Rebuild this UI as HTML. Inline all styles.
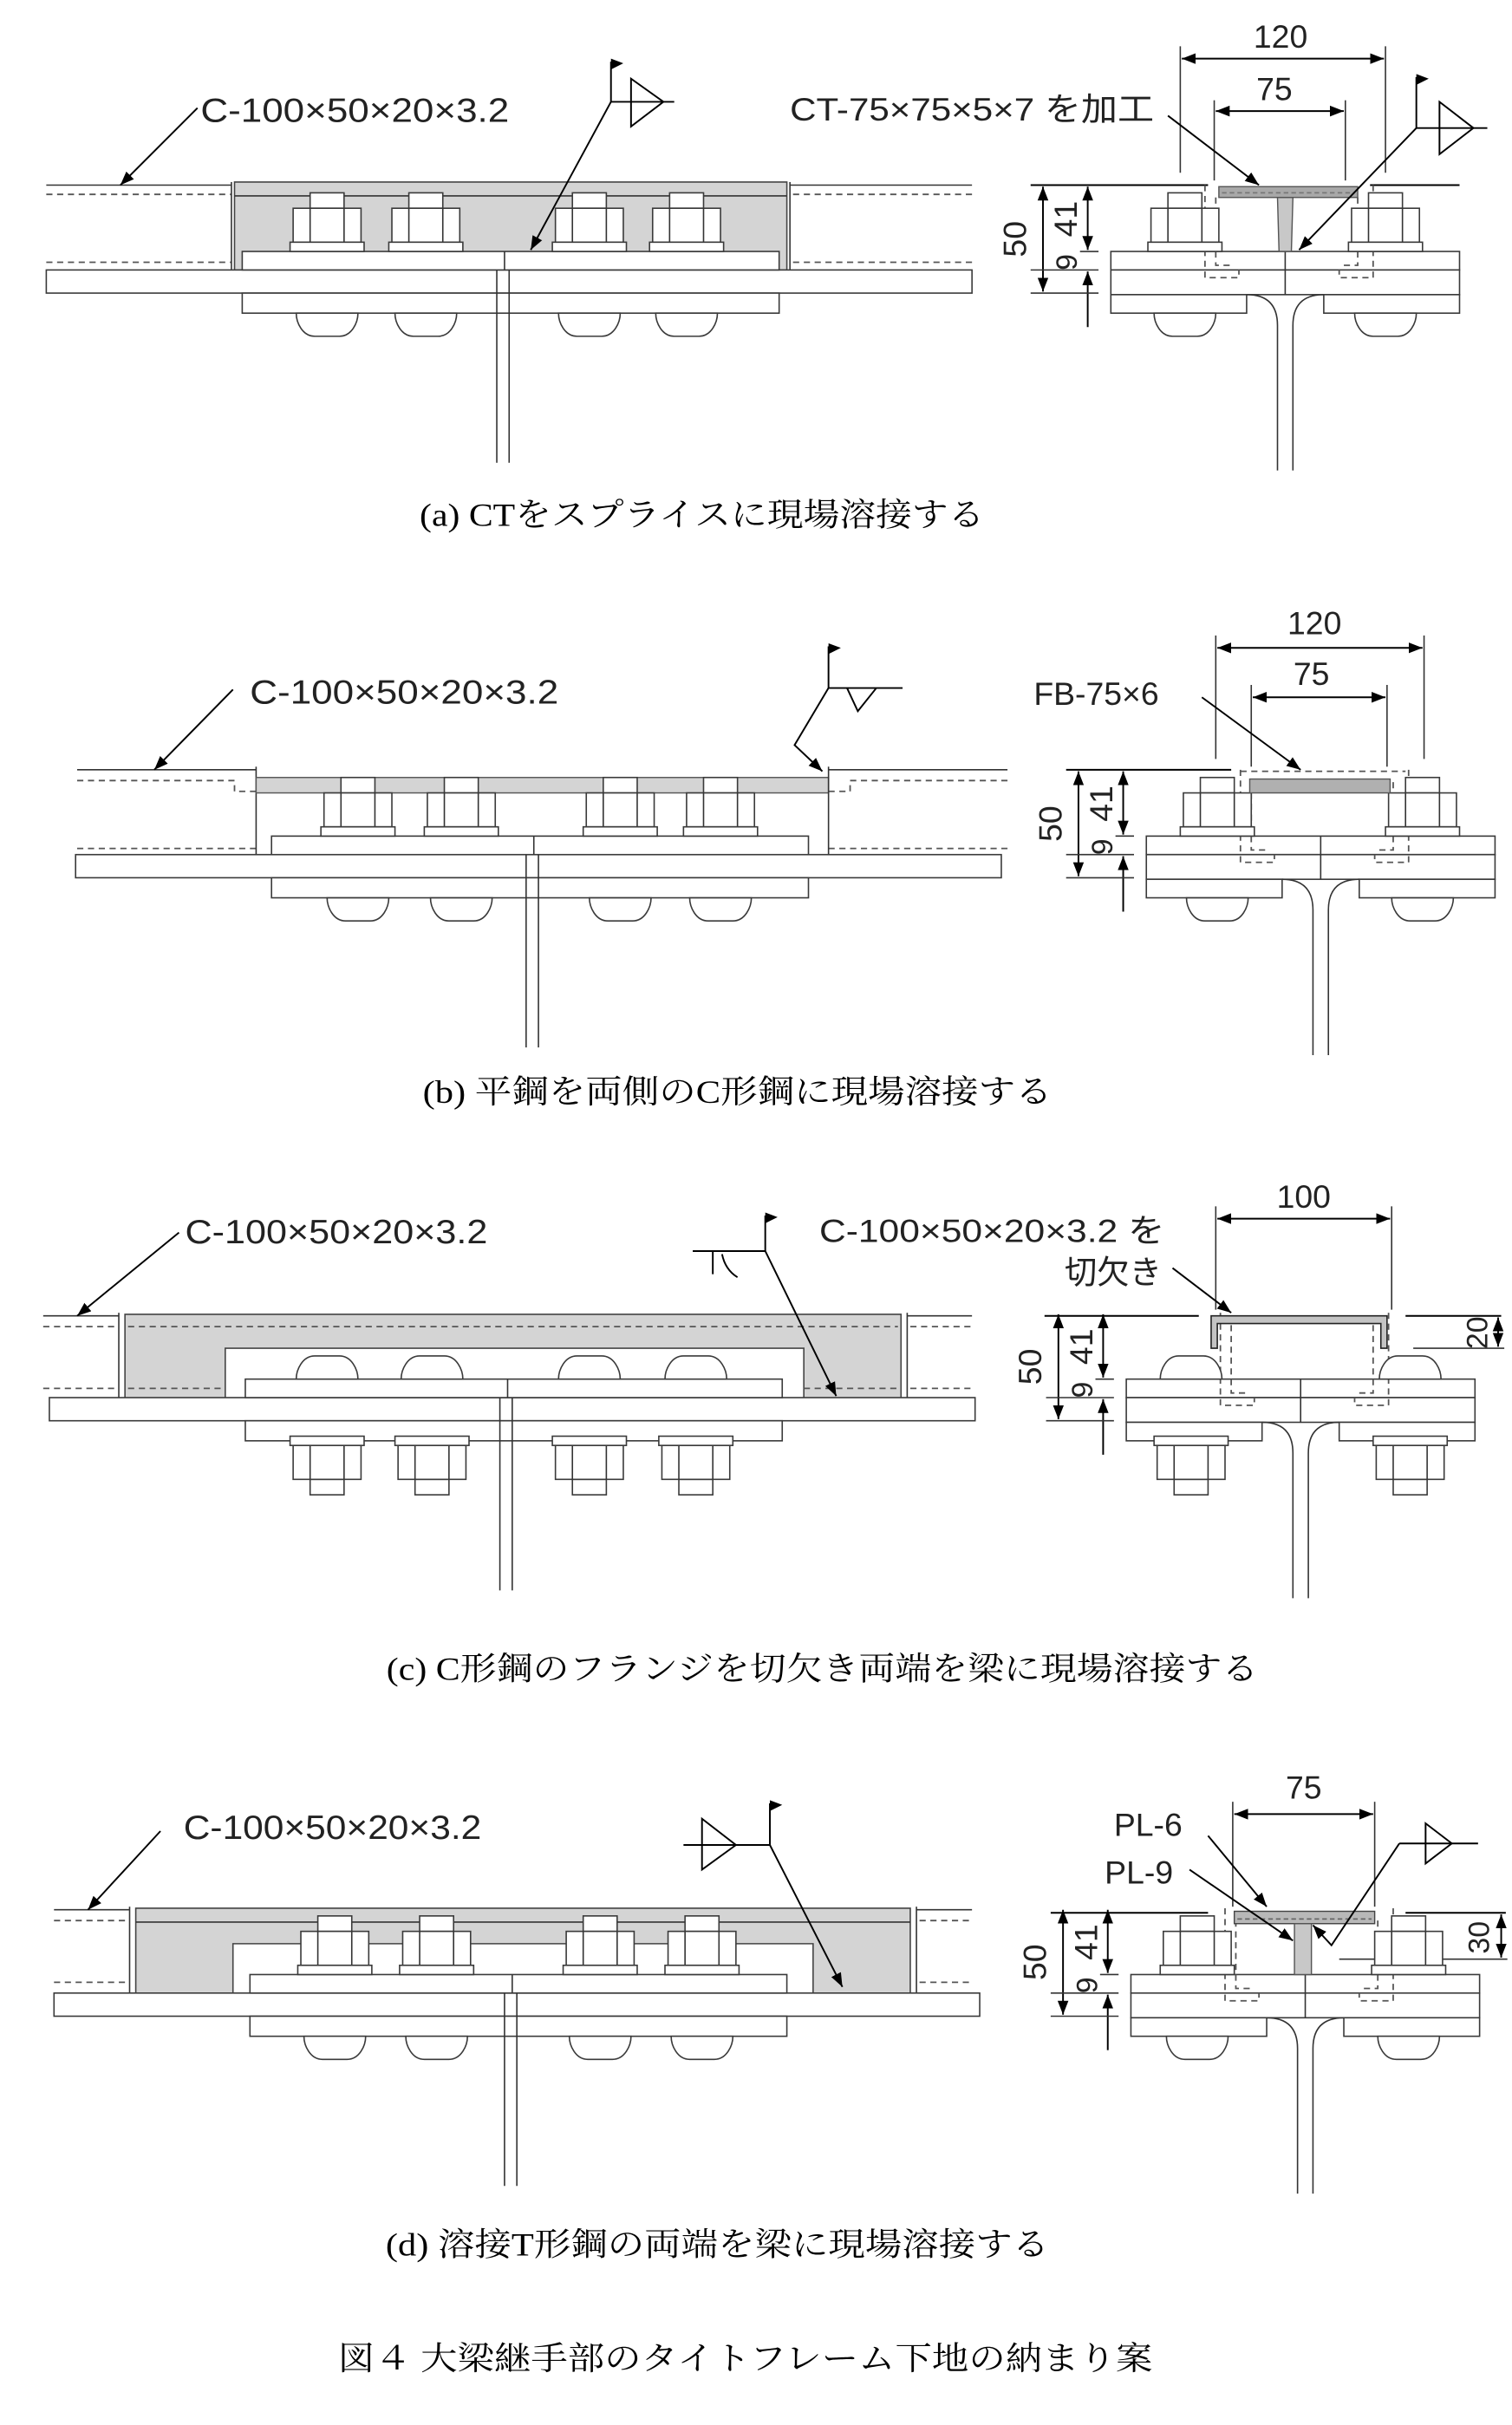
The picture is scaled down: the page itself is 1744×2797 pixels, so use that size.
<!DOCTYPE html>
<html><head><meta charset="utf-8"><style>
html,body{margin:0;padding:0;background:#fff}
svg{display:block}
.o{fill:#fff;stroke:#3a3a3a;stroke-width:0.9}
.l{stroke:#333;stroke-width:0.9;fill:none}
.k{stroke:#000;stroke-width:1.1;fill:none}
.d{stroke:#555;stroke-width:1;fill:none;stroke-dasharray:4 3}
.g{fill:#d4d4d4;stroke:#444;stroke-width:0.9}
.lab{font-family:"Liberation Sans","Noto Sans CJK JP",sans-serif;fill:#222}
.cap{font-family:"Liberation Serif","Noto Serif CJK SC","Noto Sans CJK JP",serif;fill:#000;font-size:21px}
</style></head><body>
<svg width="1744" height="2797" viewBox="0 0 980 1572" preserveAspectRatio="none" xmlns="http://www.w3.org/2000/svg">
<defs>
<marker id="ar" markerWidth="10" markerHeight="10" refX="9" refY="5" orient="auto" markerUnits="userSpaceOnUse"><path d="M0,1.5 L9,5 L0,8.5 z" fill="#000"/></marker>
<marker id="as" markerWidth="10" markerHeight="10" refX="1" refY="5" orient="auto" markerUnits="userSpaceOnUse"><path d="M10,1.5 L1,5 L10,8.5 z" fill="#000"/></marker>
<g id="nut"><rect class="o" x="-11" y="-38" width="22" height="10"/><rect class="o" x="-22" y="-28" width="44" height="22"/><line class="l" x1="-11" y1="-28" x2="-11" y2="-6"/><line class="l" x1="11" y1="-28" x2="11" y2="-6"/><rect class="o" x="-24" y="-6" width="48" height="6"/></g>
<path id="dome" class="o" d="M-20,0 C-20,6 -16,15 -8,15 L8,15 C16,15 20,6 20,0 z"/>
<g id="coreL">
<rect class="o" x="30" y="175" width="600" height="15"/>
<rect class="o" x="157" y="163" width="348" height="12"/>
<rect class="o" x="157" y="190" width="348" height="13"/>
<line class="l" x1="322" y1="175" x2="322" y2="300"/><line class="l" x1="330" y1="175" x2="330" y2="300"/>
<line class="l" x1="327" y1="163" x2="327" y2="175"/>
</g>
<g id="coreR">
<rect class="o" x="720" y="163" width="226" height="12"/>
<rect class="o" x="720" y="175" width="226" height="16"/>
<rect class="o" x="720" y="191" width="88" height="12"/>
<rect class="o" x="858" y="191" width="88" height="12"/>
<path class="l" d="M808,191 Q828,191 828,211 L828,305"/>
<path class="l" d="M858,191 Q838,191 838,211 L838,305"/>
<line class="l" x1="833" y1="163" x2="833" y2="191"/>
<path class="d" d="M781,120 L781,180 L803,180 L803,175"/>
<path class="d" d="M788,128 L788,172 L798,172"/>
<path class="d" d="M890,120 L890,180 L868,180 L868,175"/>
<path class="d" d="M880,128 L880,172 L870,172"/>
<line class="k" x1="676" y1="121" x2="676" y2="189" marker-start="url(#as)" marker-end="url(#ar)"/>
<line class="k" x1="705" y1="121" x2="705" y2="162" marker-start="url(#as)" marker-end="url(#ar)"/>
<line class="k" x1="705" y1="176" x2="705" y2="212" marker-start="url(#as)"/>
<line class="l" x1="700" y1="163" x2="712" y2="163"/>
<line class="l" x1="668" y1="175" x2="712" y2="175"/>
<line class="l" x1="668" y1="190" x2="712" y2="190"/>
<text class="lab" font-size="21" text-anchor="middle" transform="translate(665,155) rotate(-90)">50</text>
<text class="lab" font-size="21" text-anchor="middle" transform="translate(698,142) rotate(-90)">41</text>
<text class="lab" font-size="19" text-anchor="middle" transform="translate(698,170) rotate(-90)">9</text>
</g>
</defs>

<!-- ============ (a) ============ -->
<g>
<line class="l" x1="30" y1="120" x2="150" y2="120" stroke-width="2" stroke="#888"/>
<line class="d" x1="30" y1="126" x2="150" y2="126"/><line class="d" x1="30" y1="170" x2="150" y2="170"/>
<line class="l" x1="150" y1="118" x2="150" y2="175"/>
<rect class="g" x="152" y="118" width="358" height="57"/>
<line class="l" x1="152" y1="127" x2="510" y2="127"/>
<line class="l" x1="512" y1="120" x2="630" y2="120" stroke-width="2" stroke="#888"/>
<line class="d" x1="514" y1="126" x2="630" y2="126"/><line class="d" x1="514" y1="170" x2="630" y2="170"/>
<line class="l" x1="512" y1="118" x2="512" y2="175"/>
<use href="#coreL"/>
<use href="#nut" x="212" y="163"/><use href="#nut" x="276" y="163"/><use href="#nut" x="382" y="163"/><use href="#nut" x="445" y="163"/>
<use href="#dome" x="212" y="203"/><use href="#dome" x="276" y="203"/><use href="#dome" x="382" y="203"/><use href="#dome" x="445" y="203"/>
<text class="lab" x="130" y="79" font-size="22" textLength="200" lengthAdjust="spacingAndGlyphs">C-100×50×20×3.2</text>
<line class="k" x1="128" y1="70" x2="78" y2="120" marker-end="url(#ar)"/>
<line class="k" x1="396" y1="40" x2="396" y2="66"/><path d="M396,38 L404,41 L396,45z" fill="#000"/>
<line class="k" x1="396" y1="66" x2="437" y2="66"/><path class="k" d="M409,51 L409,82 L430,66 z"/>
<line class="k" x1="396" y1="66" x2="344" y2="162" marker-end="url(#ar)"/>
<line class="k" x1="668" y1="120" x2="783" y2="120"/>
<line class="k" x1="888" y1="120" x2="946" y2="120"/>
<use href="#coreR"/>
<use href="#nut" x="768" y="163"/><use href="#nut" x="898" y="163"/>
<use href="#dome" x="768" y="203"/><use href="#dome" x="898" y="203"/>
<rect x="790" y="121" width="90" height="7" fill="#a8a8a8" stroke="#555" stroke-width="0.8"/>
<line x1="792" y1="125" x2="878" y2="125" stroke="#777" stroke-dasharray="3 2"/>
<path d="M828,128 L838,128 L837,163 L829,163 z" fill="#c8c8c8" stroke="#555" stroke-width="0.8"/>
<line class="l" x1="765" y1="30" x2="765" y2="112"/><line class="l" x1="898" y1="30" x2="898" y2="112"/>
<line class="k" x1="766" y1="38" x2="897" y2="38" marker-start="url(#as)" marker-end="url(#ar)"/>
<text class="lab" x="830" y="31" font-size="21" text-anchor="middle">120</text>
<line class="l" x1="787" y1="65" x2="787" y2="117"/><line class="l" x1="872" y1="65" x2="872" y2="117"/>
<line class="k" x1="788" y1="72" x2="871" y2="72" marker-start="url(#as)" marker-end="url(#ar)"/>
<text class="lab" x="826" y="65" font-size="21" text-anchor="middle">75</text>
<text class="lab" x="512" y="78" font-size="21" textLength="236" lengthAdjust="spacingAndGlyphs">CT-75×75×5×7 を加工</text>
<line class="k" x1="757" y1="75" x2="816" y2="120" marker-end="url(#ar)"/>
<line class="k" x1="918" y1="50" x2="918" y2="83"/><path d="M918,48 L926,51 L918,55z" fill="#000"/>
<line class="k" x1="918" y1="83" x2="964" y2="83"/><path class="k" d="M933,66 L933,100 L955,83 z"/>
<line class="k" x1="918" y1="83" x2="842" y2="162" marker-end="url(#ar)"/>
<text class="cap" x="455" y="341" text-anchor="middle" textLength="366" lengthAdjust="spacingAndGlyphs">(a) CTをスプライスに現場溶接する</text>
</g>

<!-- ============ (b) ============ -->
<g>
<line class="l" x1="50" y1="499" x2="166" y2="499" stroke-width="2" stroke="#888"/>
<path class="d" d="M50,506 L152,506 L152,513 L166,513"/>
<line class="d" x1="50" y1="550" x2="166" y2="550"/>
<line class="l" x1="166" y1="497" x2="166" y2="554"/>
<rect x="166" y="504" width="371" height="10" fill="#d4d4d4" stroke="#555" stroke-width="0.8"/>
<line class="l" x1="537" y1="499" x2="653" y2="499" stroke-width="2" stroke="#888"/>
<path class="d" d="M653,506 L551,506 L551,513 L537,513"/>
<line class="d" x1="537" y1="550" x2="653" y2="550"/>
<line class="l" x1="537" y1="497" x2="537" y2="554"/>
<use href="#coreL" transform="translate(19,379)"/>
<use href="#nut" x="232" y="542"/><use href="#nut" x="299" y="542"/><use href="#nut" x="402" y="542"/><use href="#nut" x="467" y="542"/>
<use href="#dome" x="232" y="582"/><use href="#dome" x="299" y="582"/><use href="#dome" x="402" y="582"/><use href="#dome" x="467" y="582"/>
<text class="lab" x="162" y="456" font-size="22" textLength="200" lengthAdjust="spacingAndGlyphs">C-100×50×20×3.2</text>
<line class="k" x1="151" y1="447" x2="100" y2="499" marker-end="url(#ar)"/>
<line class="k" x1="537" y1="419" x2="537" y2="446"/><path d="M537,417 L545,420 L537,424z" fill="#000"/>
<line class="k" x1="537" y1="446" x2="585" y2="446"/><path class="k" d="M549,446 L556,461 L568,446"/>
<polyline class="k" points="537,446 515,483 533,500" marker-end="url(#ar)"/>
<line class="k" x1="691" y1="499" x2="798" y2="499"/>
<use href="#coreR" transform="translate(23,379)"/>
<use href="#nut" x="789" y="542"/><use href="#nut" x="922" y="542"/>
<use href="#dome" x="789" y="582"/><use href="#dome" x="922" y="582"/>
<rect x="810" y="505" width="91" height="9" fill="#b0b0b0" stroke="#555" stroke-width="0.8"/>
<path class="d" d="M804,500 L911,500"/>
<line class="l" x1="788" y1="412" x2="788" y2="492"/><line class="l" x1="923" y1="412" x2="923" y2="492"/>
<line class="k" x1="789" y1="420" x2="922" y2="420" marker-start="url(#as)" marker-end="url(#ar)"/>
<text class="lab" x="852" y="411" font-size="21" text-anchor="middle">120</text>
<line class="l" x1="811" y1="444" x2="811" y2="497"/><line class="l" x1="899" y1="444" x2="899" y2="497"/>
<line class="k" x1="812" y1="452" x2="898" y2="452" marker-start="url(#as)" marker-end="url(#ar)"/>
<text class="lab" x="850" y="444" font-size="21" text-anchor="middle">75</text>
<text class="lab" x="670" y="457" font-size="21">FB-75×6</text>
<line class="k" x1="779" y1="452" x2="843" y2="499" marker-end="url(#ar)"/>
<text class="cap" x="478" y="715" text-anchor="middle" textLength="408" lengthAdjust="spacingAndGlyphs">(b) 平鋼を両側のC形鋼に現場溶接する</text>
</g>

<!-- ============ (c) ============ -->
<g>
<line class="l" x1="28" y1="853" x2="77" y2="853" stroke-width="2" stroke="#888"/>
<line class="d" x1="28" y1="860" x2="77" y2="860"/><line class="d" x1="28" y1="900" x2="77" y2="900"/>
<line class="l" x1="77" y1="851" x2="77" y2="907"/>
<path class="g" d="M81,852 L584,852 L584,907 L521,907 L521,874 L146,874 L146,907 L81,907 z"/>
<line class="d" x1="83" y1="860" x2="582" y2="860"/>
<line class="d" x1="83" y1="900" x2="146" y2="900"/><line class="d" x1="521" y1="900" x2="582" y2="900"/>
<line class="l" x1="588" y1="853" x2="630" y2="853" stroke-width="2" stroke="#888"/>
<line class="d" x1="590" y1="860" x2="630" y2="860"/><line class="d" x1="590" y1="900" x2="630" y2="900"/>
<line class="l" x1="588" y1="851" x2="588" y2="907"/>
<use href="#coreL" transform="translate(2,731)"/>
<g transform="translate(0,1825) scale(1,-1)">
<use href="#dome" x="212" y="931"/><use href="#dome" x="280" y="931"/><use href="#dome" x="382" y="931"/><use href="#dome" x="451" y="931"/>
</g>
<g transform="translate(0,1862) scale(1,-1)">
<use href="#nut" x="212" y="931"/><use href="#nut" x="280" y="931"/><use href="#nut" x="382" y="931"/><use href="#nut" x="451" y="931"/>
</g>
<text class="lab" x="120" y="806" font-size="22" textLength="196" lengthAdjust="spacingAndGlyphs">C-100×50×20×3.2</text>
<line class="k" x1="116" y1="799" x2="50" y2="853" marker-end="url(#ar)"/>
<line class="k" x1="496" y1="788" x2="496" y2="811"/><path d="M496,786 L504,789 L496,793z" fill="#000"/>
<line class="k" x1="449" y1="811" x2="496" y2="811"/>
<line class="k" x1="462" y1="811" x2="462" y2="826"/><path class="k" d="M468,813 Q470,823 478,828"/>
<line class="k" x1="496" y1="811" x2="542" y2="905" marker-end="url(#ar)"/>
<line class="k" x1="677" y1="853" x2="777" y2="853"/>
<line class="k" x1="911" y1="853" x2="973" y2="853"/>
<line class="l" x1="916" y1="874" x2="975" y2="874"/>
<use href="#coreR" transform="translate(10,731)"/>
<g transform="translate(0,1788) scale(1,-1)"><use href="#dome" x="772" y="894"/><use href="#dome" x="914" y="894"/></g>
<g transform="translate(0,1862) scale(1,-1)"><use href="#nut" x="772" y="931"/><use href="#nut" x="914" y="931"/></g>
<path d="M785,853 L899,853 L899,874 L895,874 L895,858 L789,858 L789,874 L785,874 z" fill="#c4c4c4" stroke="#222" stroke-width="0.9"/>
<line class="l" x1="788" y1="782" x2="788" y2="849"/><line class="l" x1="902" y1="782" x2="902" y2="849"/>
<line class="k" x1="789" y1="790" x2="901" y2="790" marker-start="url(#as)" marker-end="url(#ar)"/>
<text class="lab" x="845" y="783" font-size="21" text-anchor="middle">100</text>
<line class="k" x1="971" y1="854" x2="971" y2="873" marker-start="url(#as)" marker-end="url(#ar)"/>
<text class="lab" font-size="19" text-anchor="middle" transform="translate(964,864) rotate(-90)">20</text>
<text class="lab" x="531" y="805" font-size="21" textLength="224" lengthAdjust="spacingAndGlyphs">C-100×50×20×3.2 を</text>
<text class="lab" x="690" y="832" font-size="21">切欠き</text>
<line class="k" x1="760" y1="822" x2="798" y2="851" marker-end="url(#ar)"/>
<text class="cap" x="533" y="1089" text-anchor="middle" textLength="565" lengthAdjust="spacingAndGlyphs">(c) C形鋼のフランジを切欠き両端を梁に現場溶接する</text>
</g>

<!-- ============ (d) ============ -->
<g>
<line class="l" x1="35" y1="1238" x2="84" y2="1238" stroke-width="2" stroke="#888"/>
<line class="d" x1="35" y1="1245" x2="84" y2="1245"/><line class="d" x1="35" y1="1285" x2="84" y2="1285"/>
<line class="l" x1="84" y1="1236" x2="84" y2="1292"/>
<path class="g" d="M88,1237 L590,1237 L590,1292 L527,1292 L527,1260 L151,1260 L151,1292 L88,1292 z"/>
<line class="l" x1="88" y1="1246" x2="590" y2="1246"/>
<line class="l" x1="594" y1="1238" x2="630" y2="1238" stroke-width="2" stroke="#888"/>
<line class="d" x1="596" y1="1245" x2="630" y2="1245"/><line class="d" x1="596" y1="1285" x2="630" y2="1285"/>
<line class="l" x1="594" y1="1236" x2="594" y2="1292"/>
<g transform="translate(5,1117)"><use href="#coreL"/></g>
<use href="#nut" x="217" y="1280"/><use href="#nut" x="283" y="1280"/><use href="#nut" x="389" y="1280"/><use href="#nut" x="455" y="1280"/>
<use href="#dome" x="217" y="1320"/><use href="#dome" x="283" y="1320"/><use href="#dome" x="389" y="1320"/><use href="#dome" x="455" y="1320"/>
<text class="lab" x="119" y="1192" font-size="22" textLength="193" lengthAdjust="spacingAndGlyphs">C-100×50×20×3.2</text>
<line class="k" x1="104" y1="1187" x2="57" y2="1238" marker-end="url(#ar)"/>
<line class="k" x1="499" y1="1169" x2="499" y2="1196"/><path d="M499,1167 L507,1170 L499,1174z" fill="#000"/>
<line class="k" x1="443" y1="1196" x2="499" y2="1196"/><path class="k" d="M455,1179 L455,1212 L477,1196 z"/>
<line class="k" x1="499" y1="1196" x2="546" y2="1288" marker-end="url(#ar)"/>
<line class="k" x1="681" y1="1240" x2="783" y2="1240"/>
<line class="k" x1="911" y1="1240" x2="976" y2="1240"/>
<line class="l" x1="868" y1="1270" x2="977" y2="1270"/>
<use href="#coreR" transform="translate(13,1117)"/>
<use href="#nut" x="776" y="1280"/><use href="#nut" x="913" y="1280"/>
<use href="#dome" x="776" y="1320"/><use href="#dome" x="913" y="1320"/>
<rect x="800" y="1239" width="91" height="8" fill="#b8b8b8" stroke="#444" stroke-width="0.8"/>
<line x1="802" y1="1244" x2="889" y2="1244" stroke="#666" stroke-dasharray="3 2"/>
<rect x="839" y="1247" width="11" height="33" fill="#c8c8c8" stroke="#555" stroke-width="0.8"/>
<line class="l" x1="799" y1="1168" x2="799" y2="1236"/><line class="l" x1="891" y1="1168" x2="891" y2="1236"/>
<line class="k" x1="800" y1="1176" x2="890" y2="1176" marker-start="url(#as)" marker-end="url(#ar)"/>
<text class="lab" x="845" y="1166" font-size="21" text-anchor="middle">75</text>
<text class="lab" x="722" y="1190" font-size="21">PL-6</text>
<text class="lab" x="716" y="1221" font-size="21">PL-9</text>
<line class="k" x1="783" y1="1190" x2="821" y2="1236" marker-end="url(#ar)"/>
<line class="k" x1="771" y1="1212" x2="838" y2="1258" marker-end="url(#ar)"/>
<line class="k" x1="907" y1="1195" x2="958" y2="1195"/><path class="k" d="M924,1182 L924,1208 L941,1195 z"/>
<polyline class="k" points="907,1195 863,1261 851,1248" marker-end="url(#ar)"/>
<line class="k" x1="973" y1="1241" x2="973" y2="1269" marker-start="url(#as)" marker-end="url(#ar)"/>
<text class="lab" font-size="19" text-anchor="middle" transform="translate(965,1256) rotate(-90)">30</text>
<text class="cap" x="465" y="1462" text-anchor="middle" textLength="430" lengthAdjust="spacingAndGlyphs">(d) 溶接T形鋼の両端を梁に現場溶接する</text>
</g>

<text class="cap" x="483" y="1536" text-anchor="middle" textLength="528" lengthAdjust="spacingAndGlyphs">図４ 大梁継手部のタイトフレーム下地の納まり案</text>
</svg>
</body></html>
